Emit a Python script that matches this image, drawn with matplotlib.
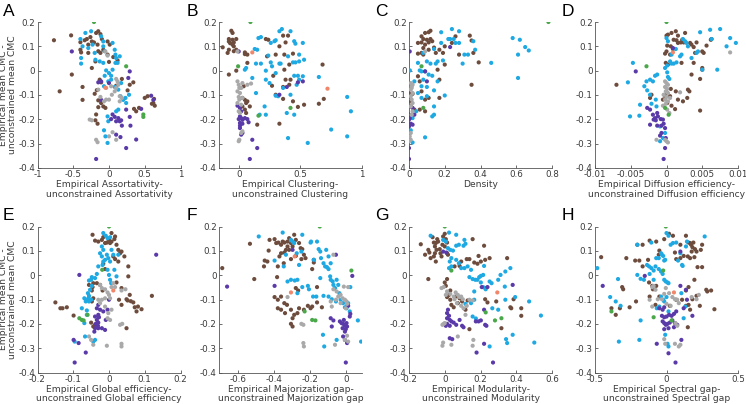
import matplotlib
matplotlib.use('Agg')
import matplotlib.pyplot as plt
import numpy as np
from matplotlib.ticker import FormatStrFormatter

# (x, y) pairs per panel and group; y = empirical mean CMC - unconstrained mean CMC
A_brown = [(-0.77, 0.125), (-0.69, -0.085), (-0.53, 0.145), (-0.52, -0.016), (-0.40, 0.117), (-0.40, 0.086),
           (-0.39, 0.075), (-0.37, -0.067), (-0.37, -0.12), (-0.34, 0.125), (-0.31, 0.13), (-0.29, 0.107),
           (-0.26, 0.138), (-0.24, 0.12), (-0.21, 0.116), (-0.18, 0.155), (-0.15, 0.162), (-0.12, 0.15),
           (-0.10, 0.13), (-0.29, 0.073), (-0.24, 0.011), (-0.19, 0.038), (-0.15, 0.08), (-0.12, 0.073),
           (-0.08, 0.086), (-0.16, 0.107), (-0.13, -0.037), (-0.11, -0.048), (-0.17, -0.08), (-0.2, -0.095),
           (-0.15, -0.122), (-0.11, -0.133), (-0.08, -0.147), (-0.05, -0.153), (-0.15, -0.15), (-0.18, -0.18),
           (-0.19, -0.204), (-0.16, -0.218), (-0.02, 0.12), (0.01, 0.107), (-0.02, 0.066), (0.0, 0.036),
           (0.06, 0.056), (0.12, 0.042), (0.29, -0.058), (0.34, -0.048), (0.26, -0.081), (0.38, -0.167),
           (0.42, -0.153), (0.35, -0.157), (0.50, -0.112), (0.63, -0.116), (0.60, -0.136), (0.64, -0.144),
           (0.62, -0.133), (0.54, -0.105), (0.18, -0.034), (0.10, -0.062)]
A_blue = [(-0.33, 0.155), (-0.40, 0.13), (-0.37, 0.1), (-0.39, 0.052), (-0.39, 0.029), (-0.29, 0.093),
          (-0.25, 0.162), (-0.23, 0.107), (-0.20, 0.073), (-0.19, 0.045), (-0.13, 0.038), (-0.08, 0.032),
          (-0.11, 0.141), (-0.08, 0.12), (-0.08, 0.1), (-0.06, 0.08), (-0.04, 0.001), (0.0, -0.01),
          (0.03, -0.021), (-0.06, -0.021), (-0.01, -0.044), (0.05, 0.114), (0.08, 0.086), (0.09, 0.066),
          (0.09, 0.032), (0.12, 0.032), (0.1, 0.052), (0.05, 0.004), (0.03, -0.037), (0.08, -0.067),
          (0.13, -0.078), (0.16, -0.105), (0.2, -0.12), (0.23, -0.112), (0.24, -0.133), (0.28, -0.099),
          (0.13, -0.16), (0.1, -0.167), (-0.02, -0.188), (-0.01, -0.208), (-0.07, -0.245), (-0.02, -0.297),
          (-0.05, -0.27), (0.15, 0.059), (-0.07, -0.064), (0.17, -0.051)]
A_purple = [(-0.52, 0.079), (-0.15, -0.048), (-0.11, -0.044), (0.0, -0.051), (0.29, -0.003), (0.27, -0.03),
            (-0.11, -0.12), (0.05, -0.18), (0.08, -0.19), (0.13, -0.195), (0.15, -0.208), (0.17, -0.204),
            (0.1, -0.208), (0.03, -0.199), (0.18, -0.226), (0.24, -0.16), (0.29, -0.19), (0.3, -0.226),
            (0.45, -0.157), (0.59, -0.103), (0.62, -0.12), (0.1, -0.263), (0.16, -0.273), (0.24, -0.318),
            (0.38, -0.283), (-0.18, -0.363)]
A_gray = [(-0.12, -0.108), (-0.07, -0.126), (-0.04, -0.119), (0.0, -0.119), (0.04, -0.099), (0.08, -0.085),
          (0.1, -0.071), (0.13, -0.058), (0.12, -0.044), (0.1, -0.034), (0.15, -0.105), (0.18, -0.112),
          (0.03, -0.064), (-0.04, -0.071), (-0.05, 0.079), (-0.02, 0.062), (-0.27, -0.201), (-0.24, -0.204),
          (-0.18, -0.284), (-0.16, -0.294), (0.05, -0.253), (0.1, -0.284), (0.0, -0.27), (-0.15, -0.078),
          (0.15, -0.126)]
A_green = [(-0.21, 0.2), (0.24, 0.018), (0.48, -0.18), (0.48, -0.19)]
A_orange = [(-0.05, -0.07)]

B_brown = [(-0.13, 0.096), (-0.08, 0.13), (-0.06, 0.164), (-0.05, 0.155), (-0.08, 0.12), (-0.07, 0.113),
           (-0.05, 0.127), (-0.05, 0.107), (-0.04, 0.116), (-0.02, 0.13), (-0.04, 0.1), (-0.08, 0.086),
           (-0.09, 0.073), (-0.04, 0.08), (-0.02, 0.086), (0.05, 0.075), (0.07, 0.066), (0.05, 0.068),
           (0.07, 0.032), (-0.08, -0.016), (-0.02, 0.0), (0.04, -0.064), (0.03, -0.112), (0.05, -0.12),
           (0.06, -0.133), (0.07, -0.126), (0.09, -0.147), (0.05, -0.16), (0.06, -0.174), (0.03, -0.147),
           (0.15, -0.222), (0.22, 0.13), (0.24, 0.127), (0.36, 0.144), (0.38, 0.116), (0.4, 0.144),
           (0.33, 0.1), (0.3, 0.066), (0.37, 0.066), (0.44, 0.07), (0.41, 0.025), (0.37, 0.004),
           (0.28, -0.021), (0.38, -0.037), (0.41, -0.058), (0.36, -0.067), (0.42, -0.037), (0.27, -0.062),
           (0.3, -0.099), (0.36, -0.116), (0.44, -0.126), (0.48, -0.149), (0.53, -0.14), (0.65, -0.136),
           (0.69, -0.116), (0.68, 0.025), (0.33, -0.218), (0.23, 0.059)]
B_blue = [(0.16, 0.134), (0.18, 0.138), (0.13, 0.089), (0.15, 0.086), (0.14, 0.029), (0.18, 0.029),
          (0.22, 0.0), (0.05, 0.004), (0.06, 0.011), (0.11, -0.03), (0.14, -0.092), (0.21, -0.147),
          (0.22, -0.037), (0.25, -0.051), (0.26, 0.114), (0.29, 0.121), (0.3, 0.125), (0.33, 0.162),
          (0.35, 0.171), (0.42, 0.162), (0.45, 0.121), (0.46, 0.111), (0.52, 0.114), (0.49, 0.066),
          (0.49, 0.038), (0.46, 0.034), (0.44, 0.034), (0.4, 0.059), (0.33, 0.029), (0.34, 0.029),
          (0.26, 0.034), (0.24, 0.062), (0.27, 0.018), (0.3, -0.01), (0.3, -0.103), (0.32, -0.105),
          (0.45, -0.021), (0.48, -0.021), (0.49, -0.037), (0.52, -0.023), (0.53, 0.045), (0.47, -0.058),
          (0.42, -0.099), (0.45, -0.181), (0.39, -0.174), (0.4, -0.277), (0.56, -0.297), (0.75, -0.242),
          (0.88, -0.108), (0.91, -0.167), (0.88, -0.27), (0.65, -0.026), (0.17, -0.181), (0.22, -0.181),
          (0.36, -0.071)]
B_purple = [(0.0, 0.079), (0.01, -0.153), (0.02, -0.167), (0.01, -0.188), (0.0, -0.199), (0.02, -0.195),
            (0.03, -0.202), (0.01, -0.215), (0.01, -0.226), (0.01, -0.236), (0.03, -0.218), (0.05, -0.195),
            (0.07, -0.199), (0.08, -0.212), (0.02, -0.263), (0.03, -0.256), (0.11, -0.284), (0.15, -0.318),
            (0.09, -0.363), (0.52, -0.044), (0.48, -0.048), (0.39, -0.067), (0.33, -0.099), (-0.01, -0.144)]
B_gray = [(-0.01, -0.044), (0.0, -0.058), (0.005, -0.071), (-0.01, -0.085), (0.01, -0.092), (0.0, -0.108),
          (0.005, -0.119), (-0.01, -0.133), (0.02, -0.14), (0.0, -0.167), (0.01, -0.174), (0.03, -0.112),
          (0.02, -0.071), (0.03, -0.051), (0.07, -0.058), (0.1, -0.053), (0.005, -0.284), (0.0, -0.29),
          (0.02, -0.256), (0.03, -0.249), (-0.01, 0.079)]
B_green = [(0.095, 0.2), (-0.005, 0.018), (0.16, -0.185), (0.42, -0.153)]
B_orange = [(0.11, 0.075), (0.72, -0.074)]

C_brown = [(0.05, 0.114), (0.07, 0.116), (0.07, 0.141), (0.08, 0.13), (0.09, 0.155), (0.11, 0.158),
           (0.12, 0.164), (0.1, 0.127), (0.11, 0.116), (0.12, 0.13), (0.13, 0.121), (0.09, 0.107),
           (0.08, 0.093), (0.05, 0.07), (0.07, 0.073), (0.08, 0.066), (0.11, 0.086), (0.14, 0.095),
           (0.17, 0.086), (0.19, 0.073), (0.15, 0.073), (0.2, 0.025), (0.16, 0.004), (0.17, -0.037),
           (0.06, -0.044), (0.05, -0.023), (0.07, -0.085), (0.11, -0.112), (0.17, -0.112), (0.09, -0.119),
           (0.03, -0.16), (0.06, -0.16), (0.09, -0.167), (0.01, -0.126), (0.02, -0.095), (0.0, -0.092),
           (0.01, -0.147), (0.28, 0.066), (0.34, 0.144), (0.35, 0.124), (0.36, 0.073), (0.39, 0.034),
           (0.35, -0.058), (0.26, 0.141), (0.24, 0.114), (0.2, 0.1)]
C_blue = [(0.005, 0.001), (0.18, 0.158), (0.24, 0.171), (0.22, 0.13), (0.23, 0.13), (0.25, 0.13),
          (0.28, 0.162), (0.26, 0.114), (0.28, 0.114), (0.36, 0.121), (0.37, 0.086), (0.31, 0.066),
          (0.33, 0.066), (0.3, 0.029), (0.46, 0.032), (0.58, 0.134), (0.62, 0.127), (0.61, 0.066),
          (0.65, 0.097), (0.67, 0.083), (0.61, -0.03), (0.14, 0.089), (0.18, 0.114), (0.08, 0.073),
          (0.1, 0.038), (0.12, 0.029), (0.15, 0.029), (0.16, 0.038), (0.19, 0.042), (0.05, 0.032),
          (0.06, 0.001), (0.07, -0.003), (0.09, -0.003), (0.11, -0.016), (0.13, -0.021), (0.07, -0.064),
          (0.1, -0.067), (0.05, -0.092), (0.07, -0.112), (0.1, -0.105), (0.14, -0.081), (0.16, -0.044),
          (0.2, -0.102), (0.14, -0.147), (0.14, -0.181), (0.13, -0.188), (0.04, -0.167), (0.02, -0.195),
          (0.01, -0.245), (0.02, -0.295), (0.09, -0.274), (0.03, -0.044), (0.08, -0.037)]
C_purple = [(0.004, 0.079), (0.23, 0.097), (0.09, -0.003), (0.1, -0.044), (0.0, -0.18), (0.004, -0.195),
            (0.0, -0.201), (0.01, -0.218), (0.004, -0.222), (0.0, -0.229), (0.02, -0.222), (0.0, -0.27),
            (0.0, -0.318), (0.0, -0.363), (0.02, -0.153), (0.03, -0.181)]
C_gray = [(0.01, -0.051), (0.015, -0.064), (0.01, -0.078), (0.02, -0.092), (0.01, -0.105), (0.015, -0.119),
          (0.02, -0.133), (0.01, -0.147), (0.015, -0.071), (0.02, -0.058), (0.01, -0.256), (0.004, -0.27),
          (0.01, -0.284), (0.0, -0.29), (0.015, -0.181), (0.02, -0.167), (0.09, 0.079)]
C_green = [(0.78, 0.2), (0.07, 0.018), (0.08, -0.153)]
C_orange = []

D_brown = [(-0.007, -0.058), (0.0, 0.144), (0.0002, 0.148), (0.0007, 0.155), (0.0013, 0.162), (0.0016, 0.144),
           (0.0026, 0.155), (0.0001, 0.103), (0.0006, 0.1), (0.0009, 0.089), (0.001, 0.127), (0.0014, 0.125),
           (0.0016, 0.114), (0.002, 0.116), (0.0022, 0.127), (0.0024, 0.116), (0.0033, 0.114), (0.0035, 0.107),
           (0.0038, 0.097), (0.004, 0.073), (0.0042, 0.116), (0.0056, 0.103), (0.005, 0.079), (0.0052, 0.073),
           (0.0063, 0.13), (0.0062, 0.127), (0.0005, 0.066), (-0.0002, 0.07), (0.0, 0.079), (-0.0001, 0.032),
           (0.0002, 0.025), (0.0021, 0.032), (0.0038, 0.032), (0.005, 0.011), (0.005, 0.004), (0.0035, -0.016),
           (0.0047, -0.034), (0.003, -0.078), (0.0032, -0.085), (0.0001, -0.092), (0.0006, -0.075),
           (0.0013, -0.085), (0.0016, -0.119), (-0.0005, -0.119), (0.0001, -0.133), (0.0007, -0.144),
           (0.0012, -0.158), (0.0023, -0.126), (0.0029, -0.112), (0.0047, -0.164), (-0.0023, -0.112),
           (-0.0021, -0.099), (-0.0002, -0.105), (0.0005, -0.105)]
D_blue = [(-0.0047, 0.032), (-0.0054, -0.048), (-0.0051, -0.188), (-0.0038, -0.185), (-0.0037, -0.14),
          (-0.0031, -0.064), (-0.0027, -0.081), (-0.0028, -0.044), (-0.0023, -0.037), (-0.0019, -0.044),
          (-0.0016, -0.021), (-0.0013, -0.016), (-0.0023, -0.099), (-0.0021, -0.136), (-0.0014, -0.147),
          (-0.0009, -0.229), (-0.0009, -0.29), (-0.0005, -0.277), (-0.0002, -0.256), (0.0001, -0.007),
          (0.0002, -0.026), (0.0004, -0.034), (-0.0002, 0.011), (0.0001, 0.021), (0.0005, 0.038),
          (0.0007, 0.029), (0.001, 0.029), (0.0014, 0.034), (0.0019, 0.059), (0.0021, 0.066), (0.0, 0.134),
          (0.0002, 0.121), (0.0023, 0.13), (0.0026, 0.121), (0.0028, 0.114), (0.003, 0.1), (0.0035, 0.052),
          (0.0042, 0.073), (0.0044, 0.079), (0.0047, 0.158), (0.005, 0.004), (0.0061, 0.168), (0.0063, 0.13),
          (0.0075, 0.171), (0.0071, 0.004), (0.0084, 0.1), (0.0089, 0.134), (0.0097, 0.114), (0.0007, 0.066),
          (0.0013, 0.089), (-0.0015, -0.119)]
D_purple = [(-0.0043, -0.003), (-0.0027, -0.153), (-0.0023, -0.16), (-0.0019, -0.181), (-0.0016, -0.195),
            (-0.0015, -0.204), (-0.0018, -0.201), (-0.0012, -0.188), (-0.0013, -0.174), (-0.0008, -0.199),
            (-0.0005, -0.201), (-0.0004, -0.218), (-0.0007, -0.226), (-0.0002, -0.236), (-0.0023, -0.222),
            (-0.0013, -0.226), (-0.0009, -0.267), (-0.0007, -0.256), (-0.0001, -0.277), (-0.0002, -0.318),
            (-0.0004, -0.363), (0.0009, 0.093)]
D_gray = [(-0.0002, -0.044), (0.0, -0.051), (0.0002, -0.058), (-0.0002, -0.067), (0.0001, -0.075),
          (-0.0001, -0.085), (0.0002, -0.092), (-0.0004, -0.099), (0.0, -0.108), (-0.0002, -0.119),
          (0.0002, -0.126), (-0.0001, -0.136), (-0.0005, -0.144), (0.0001, -0.16), (0.0004, -0.174),
          (-0.0002, -0.284), (0.0, -0.29), (0.0002, -0.295), (-0.0014, -0.284), (0.0019, -0.089),
          (0.0089, 0.075), (0.0005, -0.112)]
D_green = [(0.0, 0.2), (-0.0028, 0.018), (-0.0002, -0.153), (0.0003, -0.181)]
D_orange = [(0.0009, 0.075)]

E_brown = [(-0.15, -0.112), (-0.136, -0.136), (-0.13, -0.136), (-0.118, -0.132), (-0.099, -0.166),
           (-0.056, -0.04), (-0.044, -0.033), (-0.046, -0.049), (-0.048, -0.063), (-0.044, -0.095),
           (-0.048, -0.108), (-0.05, -0.195), (-0.044, -0.211), (-0.039, -0.204), (-0.046, 0.166),
           (-0.039, 0.142), (-0.03, 0.138), (-0.02, 0.145), (-0.016, 0.156), (-0.011, 0.132), (-0.006, 0.134),
           (0.0, 0.145), (0.003, 0.132), (0.007, 0.138), (0.015, 0.148), (0.007, 0.173), (0.017, 0.159),
           (0.021, 0.125), (0.026, 0.104), (0.012, 0.077), (0.017, 0.066), (0.026, 0.056), (0.031, 0.09),
           (0.035, 0.097), (0.043, 0.077), (0.054, 0.036), (0.054, -0.005), (0.021, -0.03), (0.035, -0.053),
           (0.049, -0.099), (0.052, -0.104), (0.058, -0.081), (0.061, -0.107), (0.068, -0.112),
           (0.072, -0.132), (0.081, -0.129), (0.077, -0.149), (0.091, -0.14), (0.035, -0.122),
           (0.028, -0.101), (-0.034, -0.033), (-0.025, -0.04), (-0.018, -0.063), (0.049, -0.218),
           (0.12, -0.085), (-0.016, 0.047), (-0.011, 0.025)]
E_blue = [(-0.016, 0.173), (-0.009, 0.162), (-0.004, 0.152), (0.003, 0.156), (-0.02, 0.118), (-0.016, 0.104),
          (-0.025, 0.09), (-0.02, 0.077), (-0.016, 0.056), (-0.018, 0.042), (-0.011, 0.063), (-0.006, 0.084),
          (-0.002, 0.07), (0.003, 0.056), (0.007, 0.104), (0.012, 0.084), (-0.004, 0.022), (0.0, 0.001),
          (0.003, -0.019), (0.006, -0.033), (-0.03, 0.036), (-0.034, 0.005), (-0.039, -0.012),
          (-0.048, -0.008), (-0.05, -0.019), (-0.056, -0.022), (-0.048, -0.044), (-0.053, -0.06),
          (-0.059, -0.074), (-0.056, -0.085), (-0.057, -0.095), (-0.062, -0.101), (-0.069, -0.095),
          (-0.065, -0.108), (-0.056, -0.108), (-0.05, -0.101), (-0.076, -0.136), (-0.062, -0.145),
          (-0.062, -0.163), (-0.069, -0.197), (-0.067, -0.252), (-0.096, -0.273), (-0.039, -0.266),
          (-0.044, -0.273), (0.026, 0.084), (0.015, 0.022), (0.021, -0.005)]
E_purple = [(-0.083, 0.001), (0.132, 0.084), (-0.03, -0.122), (-0.025, -0.142), (-0.034, -0.136),
            (-0.03, -0.163), (-0.039, -0.17), (-0.028, -0.173), (-0.034, -0.184), (-0.03, -0.195),
            (-0.037, -0.2), (-0.031, -0.208), (-0.039, -0.218), (-0.03, -0.218), (-0.02, -0.218),
            (-0.041, -0.232), (-0.011, -0.225), (-0.009, -0.184), (-0.004, -0.142), (0.0, -0.101),
            (-0.016, -0.149), (-0.085, -0.279), (-0.099, -0.266), (-0.065, -0.318), (-0.096, -0.359)]
E_gray = [(-0.025, -0.04), (-0.02, -0.053), (-0.011, -0.058), (-0.004, -0.071), (0.0, -0.081), (0.003, -0.095),
          (0.007, -0.049), (0.012, -0.033), (0.017, -0.049), (-0.011, -0.095), (-0.02, -0.101),
          (-0.025, -0.115), (-0.011, -0.129), (-0.002, -0.156), (-0.004, -0.177), (0.003, -0.184),
          (0.007, -0.142), (0.035, -0.063), (0.046, -0.058), (0.031, -0.204), (0.037, -0.2), (0.035, -0.282),
          (0.035, -0.293), (-0.006, -0.29), (-0.056, -0.252), (-0.05, -0.266), (-0.044, -0.286),
          (-0.03, -0.101)]
E_green = [(0.0, 0.2), (-0.019, 0.022), (-0.083, -0.177), (-0.076, -0.184), (-0.071, -0.186), (-0.06, -0.163)]
E_orange = [(0.012, -0.063)]

F_brown = [(-0.687, 0.029), (-0.533, 0.129), (-0.509, -0.016), (-0.455, 0.036), (-0.451, 0.06), (-0.436, 0.056),
           (-0.429, 0.101), (-0.424, 0.145), (-0.396, 0.148), (-0.387, 0.132), (-0.375, 0.134), (-0.36, 0.125),
           (-0.351, 0.138), (-0.342, 0.134), (-0.324, 0.138), (-0.315, 0.152), (-0.305, 0.132), (-0.296, 0.118),
           (-0.324, 0.118), (-0.333, 0.104), (-0.315, 0.104), (-0.342, 0.093), (-0.36, 0.09), (-0.369, 0.077),
           (-0.287, 0.166), (-0.278, 0.145), (-0.26, 0.132), (-0.251, 0.111), (-0.242, 0.107), (-0.233, 0.084),
           (-0.224, 0.07), (-0.247, 0.066), (-0.278, 0.079), (-0.305, 0.066), (-0.345, 0.049), (-0.378, 0.036),
           (-0.396, -0.09), (-0.378, -0.101), (-0.36, -0.088), (-0.342, -0.115), (-0.327, -0.122),
           (-0.378, -0.136), (-0.36, -0.142), (-0.338, -0.156), (-0.305, -0.142), (-0.296, -0.177),
           (-0.287, -0.163), (-0.269, -0.156), (-0.26, -0.136), (-0.233, -0.142), (-0.211, -0.126),
           (-0.187, -0.129), (-0.16, -0.112), (-0.133, -0.132), (-0.16, -0.049), (-0.187, 0.025),
           (-0.178, 0.052), (-0.178, 0.063), (-0.196, -0.136), (-0.296, -0.211), (-0.305, -0.2),
           (-0.278, -0.053), (-0.265, -0.063), (-0.382, -0.008)]
F_blue = [(-0.484, 0.159), (-0.396, 0.06), (-0.351, 0.175), (-0.345, 0.036), (-0.333, 0.084), (-0.305, 0.145),
          (-0.296, 0.138), (-0.287, 0.132), (-0.273, 0.09), (-0.247, 0.097), (-0.242, 0.166), (-0.26, 0.042),
          (-0.324, -0.026), (-0.305, -0.019), (-0.284, -0.022), (-0.269, -0.019), (-0.242, -0.049),
          (-0.269, -0.074), (-0.211, -0.044), (-0.205, -0.058), (-0.196, 0.134), (-0.193, 0.138),
          (-0.178, 0.063), (-0.16, 0.138), (-0.151, 0.107), (-0.142, 0.097), (-0.138, 0.07), (-0.124, 0.049),
          (-0.115, 0.036), (-0.105, 0.033), (-0.096, 0.025), (-0.087, -0.005), (-0.084, -0.019),
          (-0.073, -0.026), (-0.069, -0.04), (-0.06, -0.053), (-0.051, -0.019), (-0.042, -0.04),
          (-0.036, -0.074), (-0.096, -0.088), (-0.078, -0.099), (-0.055, -0.108), (-0.029, -0.101),
          (-0.015, -0.115), (-0.005, -0.132), (0.004, -0.136), (0.007, -0.126), (0.013, -0.115),
          (0.022, -0.149), (0.025, -0.049), (-0.124, -0.085), (-0.164, -0.088), (-0.182, -0.088),
          (-0.127, -0.245), (-0.12, -0.293), (-0.051, -0.266), (0.067, -0.186), (0.085, -0.273),
          (-0.084, 0.049), (-0.096, 0.077), (-0.109, 0.104), (-0.142, -0.012)]
F_purple = [(-0.66, -0.047), (-0.396, -0.044), (-0.296, 0.104), (-0.055, 0.084), (0.036, -0.003),
            (0.013, -0.126), (-0.084, -0.177), (-0.069, -0.186), (-0.078, -0.211), (-0.033, -0.19),
            (-0.024, -0.197), (-0.015, -0.2), (-0.011, -0.184), (-0.005, -0.208), (-0.018, -0.218),
            (0.004, -0.197), (0.007, -0.211), (0.0, -0.222), (0.022, -0.17), (0.025, -0.159),
            (-0.005, -0.232), (-0.015, -0.252), (-0.005, -0.266), (0.007, -0.279), (0.0, -0.359)]
F_gray = [(-0.324, -0.09), (-0.247, -0.2), (-0.236, -0.204), (-0.236, -0.279), (-0.233, -0.293),
          (-0.069, 0.084), (-0.069, -0.058), (-0.051, -0.067), (-0.042, -0.088), (-0.029, -0.081),
          (-0.018, -0.095), (-0.005, -0.101), (0.004, -0.108), (0.007, -0.118), (-0.011, -0.047),
          (0.013, -0.049), (-0.055, -0.101), (-0.084, -0.108), (-0.029, -0.115), (0.0, -0.136),
          (0.007, -0.249), (-0.005, -0.266), (0.013, -0.273), (-0.06, -0.286), (-0.078, -0.129)]
F_green = [(-0.145, 0.2), (0.031, 0.019), (-0.229, -0.149), (-0.187, -0.184), (-0.169, -0.186)]
F_orange = [(-0.284, 0.077), (-0.305, -0.071)]

G_brown = [(-0.134, 0.127), (-0.11, 0.084), (-0.092, 0.104), (-0.086, 0.093), (-0.079, 0.07), (-0.092, -0.016),
           (-0.068, 0.156), (-0.061, 0.134), (-0.055, 0.118), (-0.05, 0.132), (-0.042, 0.148), (-0.037, 0.138),
           (-0.046, 0.104), (-0.028, 0.107), (-0.024, 0.09), (-0.055, 0.09), (-0.061, 0.077), (-0.05, 0.056),
           (-0.018, 0.077), (-0.013, 0.125), (-0.009, 0.159), (0.0, 0.17), (0.006, 0.148), (0.013, 0.134),
           (0.0, 0.118), (0.013, 0.09), (0.018, 0.084), (0.055, 0.036), (0.083, 0.038), (0.092, 0.056),
           (0.123, 0.066), (0.138, 0.066), (0.156, 0.148), (0.165, 0.052), (0.183, 0.047), (0.189, 0.079),
           (0.202, 0.056), (0.22, 0.121), (0.226, 0.063), (0.251, 0.07), (0.349, 0.07), (0.0, -0.03),
           (0.006, -0.044), (0.031, -0.063), (0.024, -0.081), (0.013, -0.09), (0.031, -0.101),
           (0.037, -0.122), (0.05, -0.132), (0.061, -0.088), (0.073, -0.115), (0.083, -0.095),
           (0.097, -0.108), (0.128, -0.104), (0.116, -0.142), (0.138, -0.222), (0.239, -0.112),
           (0.226, -0.099), (0.288, -0.108), (0.367, -0.132), (0.372, -0.136), (0.385, -0.099),
           (0.428, -0.136), (0.428, -0.167), (0.317, -0.218), (0.013, -0.016)]
G_blue = [(-0.079, 0.162), (-0.009, 0.145), (0.006, 0.138), (0.024, 0.175), (0.064, 0.166), (0.018, 0.111),
          (0.031, 0.104), (0.046, 0.101), (0.064, 0.121), (0.079, 0.125), (0.105, 0.121), (0.116, 0.129),
          (0.11, 0.145), (0.037, 0.07), (0.028, 0.056), (0.024, 0.029), (0.037, 0.036), (0.064, 0.063),
          (0.079, 0.049), (0.092, 0.029), (0.11, 0.029), (0.128, 0.036), (0.147, 0.022), (0.138, -0.008),
          (0.156, -0.016), (0.171, -0.019), (0.183, -0.019), (0.193, -0.008), (0.202, -0.003),
          (0.215, 0.001), (0.22, 0.038), (0.202, -0.03), (0.215, -0.049), (0.229, -0.058), (0.251, -0.026),
          (0.262, -0.033), (0.299, -0.019), (0.312, 0.001), (0.339, 0.015), (0.367, 0.029), (0.336, -0.047),
          (0.339, -0.101), (0.299, -0.142), (0.266, -0.136), (0.165, -0.101), (0.147, -0.115),
          (0.116, -0.118), (0.156, -0.17), (0.174, -0.178), (0.226, -0.053), (0.343, -0.263),
          (0.38, -0.245), (0.394, -0.09), (0.472, -0.108), (0.501, -0.277), (0.538, -0.166),
          (0.349, -0.279), (0.251, -0.293), (0.165, -0.067)]
G_purple = [(-0.009, 0.097), (0.009, 0.093), (0.207, -0.049), (0.239, -0.049), (0.38, -0.04), (0.22, -0.142),
            (0.018, -0.142), (0.013, -0.156), (0.024, -0.167), (0.013, -0.177), (0.028, -0.184),
            (0.037, -0.19), (0.05, -0.195), (0.013, -0.2), (0.028, -0.208), (0.006, -0.208), (0.064, -0.204),
            (0.097, -0.208), (0.105, -0.214), (0.174, -0.19), (0.189, -0.19), (0.202, -0.186),
            (0.226, -0.204), (0.233, -0.208), (0.028, -0.259), (0.042, -0.263), (0.22, -0.282),
            (0.178, -0.318), (0.27, -0.359), (0.083, -0.184)]
G_gray = [(-0.018, -0.053), (-0.006, -0.049), (0.013, -0.067), (0.006, -0.081), (0.031, -0.077), (0.05, -0.088),
          (0.061, -0.071), (0.073, -0.081), (0.083, -0.09), (0.092, -0.088), (0.101, -0.099), (0.055, -0.099),
          (0.068, -0.115), (0.092, -0.126), (0.105, -0.136), (0.123, -0.126), (0.138, -0.101),
          (0.156, -0.104), (0.116, -0.163), (-0.013, -0.204), (-0.006, -0.2), (0.0, -0.197),
          (-0.009, -0.277), (-0.013, -0.29), (0.037, -0.286), (0.073, -0.252), (0.16, -0.266),
          (0.156, -0.29)]
G_green = [(0.0, 0.2), (0.037, 0.019), (0.229, -0.153), (0.281, -0.186), (0.317, -0.177)]
G_orange = [(0.294, -0.071)]

H_brown = [(-0.457, 0.074), (-0.385, -0.136), (-0.355, -0.163), (-0.326, -0.136), (-0.31, -0.049),
           (-0.303, -0.058), (-0.258, -0.132), (-0.281, 0.07), (-0.219, 0.06), (-0.19, 0.06), (-0.167, 0.125),
           (-0.204, 0.125), (-0.167, 0.036), (-0.213, -0.108), (-0.129, 0.063), (-0.118, 0.142),
           (-0.122, -0.03), (-0.072, 0.138), (-0.054, 0.084), (-0.05, 0.101), (-0.1, -0.044), (-0.072, -0.044),
           (-0.077, -0.122), (-0.095, -0.058), (-0.016, 0.148), (0.018, 0.17), (0.045, 0.162), (0.059, 0.093),
           (0.068, 0.066), (0.097, 0.07), (0.12, 0.079), (0.097, 0.125), (0.136, 0.162), (0.154, 0.134),
           (0.165, 0.132), (0.172, 0.125), (0.181, 0.115), (0.188, 0.134), (0.199, 0.107), (0.21, 0.097),
           (0.176, 0.097), (0.149, 0.077), (0.165, 0.07), (0.195, 0.074), (0.24, 0.104), (0.249, 0.125),
           (0.217, 0.033), (0.195, -0.019), (0.249, 0.033), (0.278, -0.06), (0.285, -0.067), (0.312, -0.063),
           (0.335, -0.14), (0.136, -0.063), (0.154, -0.049), (0.109, -0.101), (0.136, -0.126),
           (0.154, -0.122), (0.165, -0.142), (0.181, -0.099), (0.21, -0.085), (0.233, -0.126),
           (0.149, -0.214), (0.068, -0.101), (0.023, -0.126), (-0.05, -0.088), (-0.118, -0.088)]
H_blue = [(-0.484, 0.029), (-0.394, -0.09), (-0.355, -0.108), (-0.321, -0.126), (-0.339, -0.016),
          (-0.333, -0.273), (-0.204, 0.125), (-0.204, 0.001), (-0.181, -0.186), (-0.181, -0.015),
          (-0.19, -0.266), (-0.136, 0.042), (-0.122, 0.036), (-0.106, 0.029), (-0.09, 0.019),
          (-0.118, 0.005), (-0.158, -0.019), (-0.09, -0.019), (-0.106, 0.134), (-0.072, 0.07), (-0.054, 0.07),
          (-0.038, 0.09), (-0.032, 0.084), (-0.023, 0.079), (-0.016, 0.06), (-0.009, 0.063), (-0.054, 0.025),
          (-0.038, 0.015), (-0.027, 0.005), (-0.016, -0.019), (-0.005, -0.026), (0.007, -0.03),
          (0.014, -0.033), (0.0, 0.173), (0.014, 0.162), (0.029, 0.125), (0.045, 0.132), (0.068, 0.134),
          (0.081, 0.06), (0.097, 0.09), (0.109, 0.042), (0.113, 0.038), (0.136, 0.118), (0.143, 0.138),
          (-0.038, -0.088), (-0.016, -0.108), (0.0, -0.09), (-0.068, -0.136), (-0.05, -0.129),
          (-0.023, -0.101), (0.014, -0.149), (0.12, -0.177), (0.104, -0.074), (0.131, -0.129),
          (-0.009, -0.245), (0.007, -0.282), (0.014, -0.293), (0.267, 0.159), (-0.077, 0.036)]
H_purple = [(-0.446, -0.044), (-0.152, -0.003), (0.097, -0.044), (0.097, 0.097), (0.136, -0.06),
            (-0.05, -0.136), (-0.027, -0.142), (-0.016, -0.132), (-0.032, -0.167), (-0.016, -0.173),
            (0.0, -0.17), (0.018, -0.163), (0.036, -0.167), (0.052, -0.159), (0.068, -0.149),
            (-0.027, -0.19), (-0.016, -0.197), (-0.005, -0.204), (0.007, -0.2), (0.023, -0.195),
            (0.041, -0.186), (0.059, -0.197), (0.075, -0.204), (0.052, -0.214), (0.014, -0.218),
            (-0.016, -0.222), (0.143, -0.101), (0.12, -0.136), (0.181, -0.167), (-0.068, -0.282),
            (0.104, -0.266), (0.014, -0.321), (0.063, -0.359)]
H_gray = [(-0.1, -0.049), (-0.077, -0.06), (-0.061, -0.099), (-0.032, -0.099), (-0.016, -0.077),
          (-0.005, -0.053), (0.018, -0.074), (0.041, -0.09), (0.059, -0.099), (0.086, -0.115), (0.0, -0.118),
          (0.029, -0.126), (0.075, -0.101), (-0.118, -0.101), (-0.1, -0.129), (0.176, -0.09),
          (0.226, -0.081), (0.21, -0.099), (0.063, -0.197), (0.075, -0.208), (-0.009, -0.282),
          (-0.016, -0.263), (0.059, -0.282), (0.086, -0.293), (0.097, -0.286), (-0.09, -0.044)]
H_green = [(-0.005, 0.2), (-0.023, 0.019), (-0.385, -0.149), (-0.09, -0.173), (0.036, -0.186)]
H_orange = [(0.052, -0.071)]

letters = ['A', 'B', 'C', 'D', 'E', 'F', 'G', 'H']
xlims = [(-1, 1), (-0.16, 1), (0, 0.8), (-0.01, 0.01),
         (-0.2, 0.2), (-0.705, 0.09), (-0.2, 0.6), (-0.5, 0.5)]
xticks = [[-1, -0.5, 0, 0.5, 1], [0, 0.5, 1], [0, 0.2, 0.4, 0.6, 0.8], [-0.01, -0.005, 0, 0.005, 0.01],
          [-0.2, -0.1, 0, 0.1, 0.2], [-0.6, -0.4, -0.2, 0], [-0.2, 0, 0.2, 0.4, 0.6], [-0.5, 0, 0.5]]
yticks = [-0.4, -0.3, -0.2, -0.1, 0, 0.1, 0.2]
xlabels = ['Empirical Assortativity-\nunconstrained Assortativity',
           'Empirical Clustering-\nunconstrained Clustering',
           'Density',
           'Empirical Diffusion efficiency-\nunconstrained Diffusion efficiency',
           'Empirical Global efficiency-\nunconstrained Global efficiency',
           'Empirical Majorization gap-\nunconstrained Majorization gap',
           'Empirical Modularity-\nunconstrained Modularity',
           'Empirical Spectral gap-\nunconstrained Spectral gap']
ylabel = 'Empirical mean CMC -\nunconstrained mean CMC'

panel_data = [
    [A_brown, A_blue, A_purple, A_gray, A_green, A_orange],
    [B_brown, B_blue, B_purple, B_gray, B_green, B_orange],
    [C_brown, C_blue, C_purple, C_gray, C_green, C_orange],
    [D_brown, D_blue, D_purple, D_gray, D_green, D_orange],
    [E_brown, E_blue, E_purple, E_gray, E_green, E_orange],
    [F_brown, F_blue, F_purple, F_gray, F_green, F_orange],
    [G_brown, G_blue, G_purple, G_gray, G_green, G_orange],
    [H_brown, H_blue, H_purple, H_gray, H_green, H_orange],
]
group_colors = ['#6d4c3d', '#1fa9e3', '#5a3aa8', '#a9a9a9', '#4aa84a', '#f0866a']

W, H = 746, 404
fig = plt.figure(figsize=(W / 100, H / 100), dpi=100)
plt.rcParams['font.family'] = 'DejaVu Sans'
txt = '#3a3a3a'

lefts = [37.5, 219, 409, 595]
width = 143
tops = [22, 226.5]
height = 146
letter_x = [3, 187, 375, 562]

for i, letter in enumerate(letters):
    r, c = divmod(i, 4)
    ax = fig.add_axes([lefts[c] / W, 1 - (tops[r] + height) / H, width / W, height / H])
    for pts, col in zip(panel_data[i], group_colors):
        if len(pts) == 0:
            continue
        arr = np.array(pts)
        ax.scatter(arr[:, 0], arr[:, 1], s=9, color=col, edgecolors='none', zorder=3)
    ax.set_xlim(*xlims[i])
    ax.set_ylim(-0.4, 0.2)
    ax.set_xticks(xticks[i])
    ax.set_yticks(yticks)
    ax.xaxis.set_major_formatter(FormatStrFormatter('%g'))
    ax.yaxis.set_major_formatter(FormatStrFormatter('%g'))
    for s in ['top', 'right']:
        ax.spines[s].set_visible(False)
    for s in ['left', 'bottom']:
        ax.spines[s].set_color('#555555')
        ax.spines[s].set_linewidth(0.6)
    ax.tick_params(direction='in', length=2.5, width=0.6, colors='#555555',
                   labelsize=6.3, labelcolor=txt, pad=1.5)
    ax.set_xlabel(xlabels[i], fontsize=6.6, color=txt, labelpad=1, linespacing=1.05)
    if c == 0:
        ax.set_ylabel(ylabel, fontsize=6.6, color=txt, labelpad=1, linespacing=1.05)
    fig.text(letter_x[c] / W, 1 - (tops[r] - 18) / H, letter, fontsize=12.5,
             family='Liberation Sans', va='top', ha='left', color='black')

fig.savefig('out.png', dpi=100)
